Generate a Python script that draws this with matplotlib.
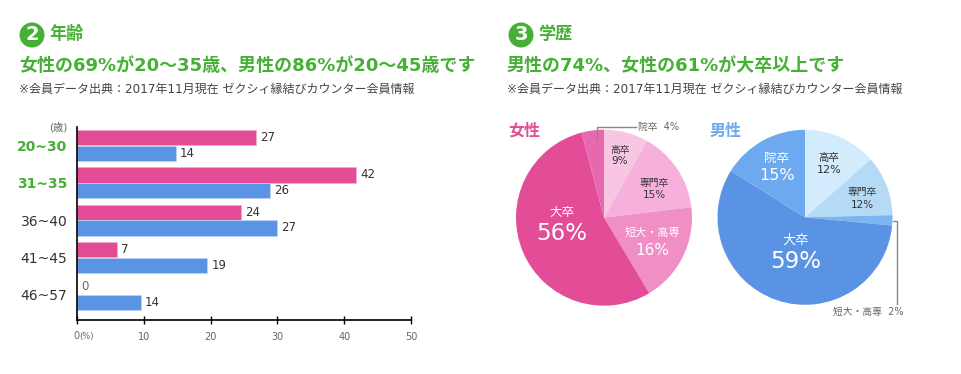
import matplotlib
matplotlib.use('Agg')
import matplotlib.pyplot as plt
from matplotlib.patches import Circle

# DejaVu first for the wide digits, CJK comes from the fallback
plt.rcParams['font.family'] = ['DejaVu Sans', 'Noto Sans CJK JP']

W, H = 962, 374
GREEN = '#45B035'
PINK = '#E44D96'
BLUE = '#5B94E4'
GREY = '#666666'
DARK = '#333333'

age_labels = ['20~30', '31~35', '36~40', '41~45', '46~57']
age_colors = [GREEN, GREEN, DARK, DARK, DARK]
# bar lengths as drawn in the picture, which differ a little from the printed numbers
women_len = [26.8, 41.8, 24.5, 6.0, 0]
men_len = [14.8, 28.9, 30.0, 19.5, 9.6]
women_text = ['27', '42', '24', '7', '0']
men_text = ['14', '26', '27', '19', '14']
x_ticks = [0, 10, 20, 30, 40, 50]

women_share = [8.1, 15.0, 18.3, 54.5, 4.1]
women_colors = ['#F8C6E2', '#F6B0DC', '#F08EC6', '#E34C96', '#E668AE']
men_share = [13.5, 11.1, 1.9, 57.4, 16.1]
men_colors = ['#D2ECFE', '#B5DAF6', '#79B6F2', '#5A93E4', '#6DA9EE']


def px_axes(fig, left, top, width, height):
    return fig.add_axes([left / W, 1 - (top + height) / H, width / W, height / H])


def draw_pie(fig, cx, cy, r, shares, colors):
    ax = px_axes(fig, cx - r, cy - r, 2 * r, 2 * r)
    ax.pie(shares, colors=colors, startangle=90, counterclock=False, radius=1)
    ax.set_xlim(-1, 1)
    ax.set_ylim(-1, 1)
    ax.set_aspect('equal')
    ax.axis('off')
    return ax


fig = plt.figure(figsize=(W / 100, H / 100), dpi=100, facecolor='white')

# bars
ax = px_axes(fig, 77, 127, 334, 193)
step = 37.3
ax.set_xlim(0, 50)
ax.set_ylim((320 - 145.5) / step, (127 - 145.5) / step)
for i in range(len(age_labels)):
    if women_len[i] > 0:
        ax.barh(i - 0.21, women_len[i], height=0.41, color=PINK, edgecolor='#F3A9CC', linewidth=0.6)
    ax.barh(i + 0.21, men_len[i], height=0.41, color=BLUE, edgecolor='#BBD3F3', linewidth=0.6)
    ax.text(women_len[i] + 0.6 if women_len[i] else 0.6, i - 0.21, women_text[i], va='center',
            fontsize=8.5, color=DARK if women_len[i] else GREY)
    ax.text(men_len[i] + 0.6, i + 0.21, men_text[i], va='center', fontsize=8.5, color=DARK)
for side in ['top', 'right']:
    ax.spines[side].set_visible(False)
ax.spines['left'].set_linewidth(1.2)
ax.spines['bottom'].set_linewidth(1.2)
ax.set_xticks(x_ticks)
ax.set_xticklabels(['' if t == 0 else str(t) for t in x_ticks], fontsize=7, color=GREY)
ax.tick_params(axis='x', direction='inout', length=6, width=1, pad=6, top=False)
ax.set_yticks(range(len(age_labels)))
ax.set_yticklabels(age_labels, fontsize=10)
ax.tick_params(axis='y', length=0, pad=7)
for lab, col in zip(ax.get_yticklabels(), age_colors):
    lab.set_color(col)
    if col == GREEN:
        lab.set_fontweight('bold')

draw_pie(fig, 604, 217.7, 88, women_share, women_colors)
draw_pie(fig, 805, 217.3, 87.5, men_share, men_colors)

# overlay in pixel coordinates for headings and annotations
ov = fig.add_axes([0, 0, 1, 1], zorder=10)
ov.set_xlim(0, W)
ov.set_ylim(H, 0)
ov.axis('off')
ov.patch.set_alpha(0)


def t(x, y, s, size, color=DARK, ha='left', weight='normal'):
    ov.text(x, y, s, fontsize=size, color=color, ha=ha, va='center', fontweight=weight)


for cx, num, head in [(32, '2', '年齢'), (521, '3', '学歴')]:
    ov.add_patch(Circle((cx, 35), 12.5, color=GREEN, lw=0))
    t(cx, 34.5, num, 14, 'white', 'center', 'bold')
    t(cx + 17, 33.5, head, 12.3, GREEN, weight='bold')

t(19, 66, '女性の69%が20～35歳、男性の86%が20～45歳です', 12.95, GREEN, weight='bold')
t(507, 66, '男性の74%、女性の61%が大卒以上です', 12.95, GREEN, weight='bold')
source = '※会員データ出典：2017年11月現在 ゼクシィ縁結びカウンター会員情報'
t(19, 89, source, 8.65, '#444444')
t(507, 89, source, 8.65, '#444444')

t(68, 127, '(歳)', 7.5, GREY, 'right')
t(73, 336, '0', 7, GREY)
t(79, 336.5, '(%)', 6, GREY)

t(508, 131, '女性', 11.5, PINK, weight='bold')
t(710, 131, '男性', 11.5, '#6FA8EE', weight='bold')

t(620, 150, '高卒', 7, DARK, 'center')
t(620, 161, '9%', 7.5, DARK, 'center')
t(654, 183, '専門卒', 7, DARK, 'center')
t(654, 195, '15%', 7.5, DARK, 'center')
t(652, 232, '短大・高専', 8, 'white', 'center')
t(652, 250, '16%', 11, 'white', 'center')
t(562, 212, '大卒', 9, 'white', 'center')
t(562, 233, '56%', 16.5, 'white', 'center')
t(638, 127, '院卒  4%', 7, GREY)
ov.plot([597, 597, 636], [140, 127, 127], color='#888888', lw=1)

t(829, 158, '高卒', 7.5, DARK, 'center')
t(829, 170, '12%', 8, DARK, 'center')
t(862, 192, '専門卒', 7, DARK, 'center')
t(862, 205, '12%', 7.5, DARK, 'center')
t(777, 158, '院卒', 9, 'white', 'center')
t(777, 175, '15%', 11.5, 'white', 'center')
t(796, 240, '大卒', 9.5, 'white', 'center')
t(796, 262, '59%', 16.5, 'white', 'center')
t(904, 312, '短大・高専  2%', 7, GREY, 'right')
ov.plot([893, 897, 897], [221, 221, 304], color='#888888', lw=1)

fig.savefig('out.png', dpi=100)
